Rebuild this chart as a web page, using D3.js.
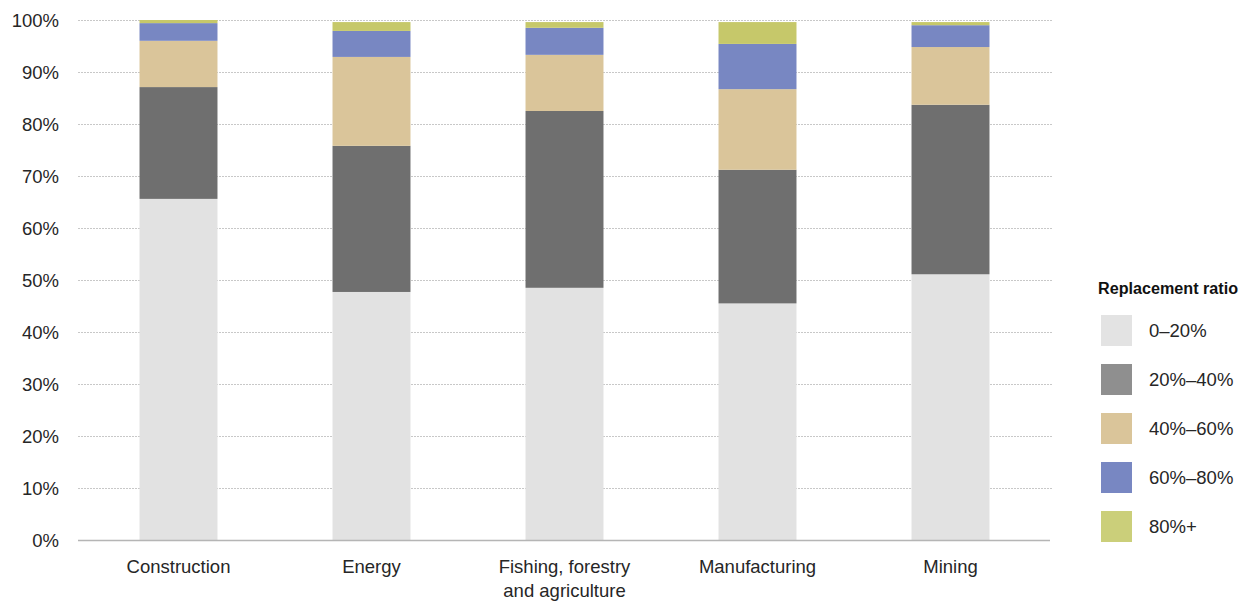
<!DOCTYPE html>
<html>
<head>
<meta charset="utf-8">
<script src="https://cdn.jsdelivr.net/npm/d3@7"></script>
<style>
  html, body { margin: 0; padding: 0; background: #fff; }
  svg { display: block; font-family: "Liberation Sans", Arial, sans-serif; }
</style>
</head>
<body>
<svg id="chart" width="1244" height="601"></svg>
<script>
// Sectors along the x axis (label lines split for wrapping)
const categories = ["Construction", "Energy", "Fishing, forestry\nand agriculture", "Manufacturing", "Mining"];

// Share of workers (%) in each replacement-ratio band, per sector
const band0to20  = [65.6, 47.7, 48.5, 45.5, 51.1];
const band20to40 = [21.5, 28.1, 34.0, 25.7, 32.6];
const band40to60 = [8.9, 17.1, 10.8, 15.5, 11.1];
const band60to80 = [3.4, 5.0, 5.2, 8.7, 4.2];
const band80plus = [0.6, 1.7, 1.1, 4.2, 0.6];

const seriesNames = ["0–20%", "20%–40%", "40%–60%", "60%–80%", "80%+"];
const yTicks = [0, 10, 20, 30, 40, 50, 60, 70, 80, 90, 100];

const barColors    = ["#e2e2e2", "#6f6f6f", "#dac59a", "#7887c2", "#c6c86a"];
const legendColors = ["#e3e3e3", "#8f8f8f", "#dac59a", "#7887c2", "#cbcf7a"];

const FONT = "'Liberation Sans', Arial, sans-serif";
const FONT_SIZE = 18.5;
const TEXT_FILL = "#262626";

const svg = d3.select("#chart");

const x = d3.scaleBand()
  .domain(categories)
  .range([82, 1047])
  .paddingInner(0.596)
  .paddingOuter(0.298);

const y = d3.scaleLinear().domain([0, 100]).range([540, 20]);

// Gridlines
svg.append("g")
  .selectAll("line")
  .data(yTicks.filter(d => d > 0))
  .join("line")
  .attr("x1", 78).attr("x2", 1052)
  .attr("y1", d => y(d) + 0.5).attr("y2", d => y(d) + 0.5)
  .attr("stroke", "#c8c8c8")
  .attr("stroke-width", 1)
  .attr("stroke-dasharray", "2,1");

// Stacked bars
const rows = categories.map((c, i) => ({
  cat: c,
  s0: band0to20[i], s1: band20to40[i], s2: band40to60[i], s3: band60to80[i], s4: band80plus[i]
}));
const stack = d3.stack().keys(["s0", "s1", "s2", "s3", "s4"]);
const layers = stack(rows);

svg.append("g")
  .selectAll("g")
  .data(layers)
  .join("g")
  .attr("fill", (d, i) => barColors[i])
  .selectAll("rect")
  .data(d => d)
  .join("rect")
  .attr("x", d => x(d.data.cat))
  .attr("width", x.bandwidth())
  .attr("y", d => y(d[1]))
  .attr("height", d => y(d[0]) - y(d[1]));

// Baseline
svg.append("line")
  .attr("x1", 78).attr("x2", 1050)
  .attr("y1", y(0) + 0.5).attr("y2", y(0) + 0.5)
  .attr("stroke", "#b5b5b5")
  .attr("stroke-width", 1.5);

// Y axis labels
const yAxis = d3.axisLeft(y)
  .tickValues(yTicks)
  .tickFormat(d => d + "%")
  .tickSize(0)
  .tickPadding(0);

const yg = svg.append("g")
  .attr("transform", "translate(59,0)")
  .call(yAxis);
yg.select(".domain").remove();
yg.selectAll("text")
  .attr("font-family", FONT)
  .attr("font-size", FONT_SIZE)
  .attr("fill", TEXT_FILL)
  .attr("dy", "0.36em");

// X axis labels
const xAxis = d3.axisBottom(x).tickSize(0).tickFormat("");
const xg = svg.append("g")
  .attr("transform", `translate(0,${y(0)})`)
  .call(xAxis);
xg.select(".domain").remove();
xg.selectAll(".tick").each(function(d) {
  const t = d3.select(this).append("text")
    .attr("text-anchor", "middle")
    .attr("font-family", FONT)
    .attr("font-size", FONT_SIZE)
    .attr("fill", TEXT_FILL);
  d.split("\n").forEach((line, i) => {
    t.append("tspan").attr("x", 0).attr("y", 33 + i * 24).text(line);
  });
});

// Legend
const legend = svg.append("g").attr("transform", "translate(1098,0)");
legend.append("text")
  .attr("x", 0).attr("y", 294)
  .attr("font-family", FONT)
  .attr("font-weight", "bold")
  .attr("font-size", 16)
  .attr("fill", "#111")
  .attr("textLength", 140)
  .attr("lengthAdjust", "spacingAndGlyphs")
  .text("Replacement ratio");

const items = legend.selectAll("g.item")
  .data(seriesNames)
  .join("g")
  .attr("class", "item")
  .attr("transform", (d, i) => `translate(3,${315 + i * 49})`);
items.append("rect")
  .attr("width", 31).attr("height", 31)
  .attr("fill", (d, i) => legendColors[i]);
items.append("text")
  .attr("x", 48).attr("y", 15.5)
  .attr("dy", "0.36em")
  .attr("font-family", FONT)
  .attr("font-size", FONT_SIZE)
  .attr("fill", TEXT_FILL)
  .text(d => d);
</script>
</body>
</html>
